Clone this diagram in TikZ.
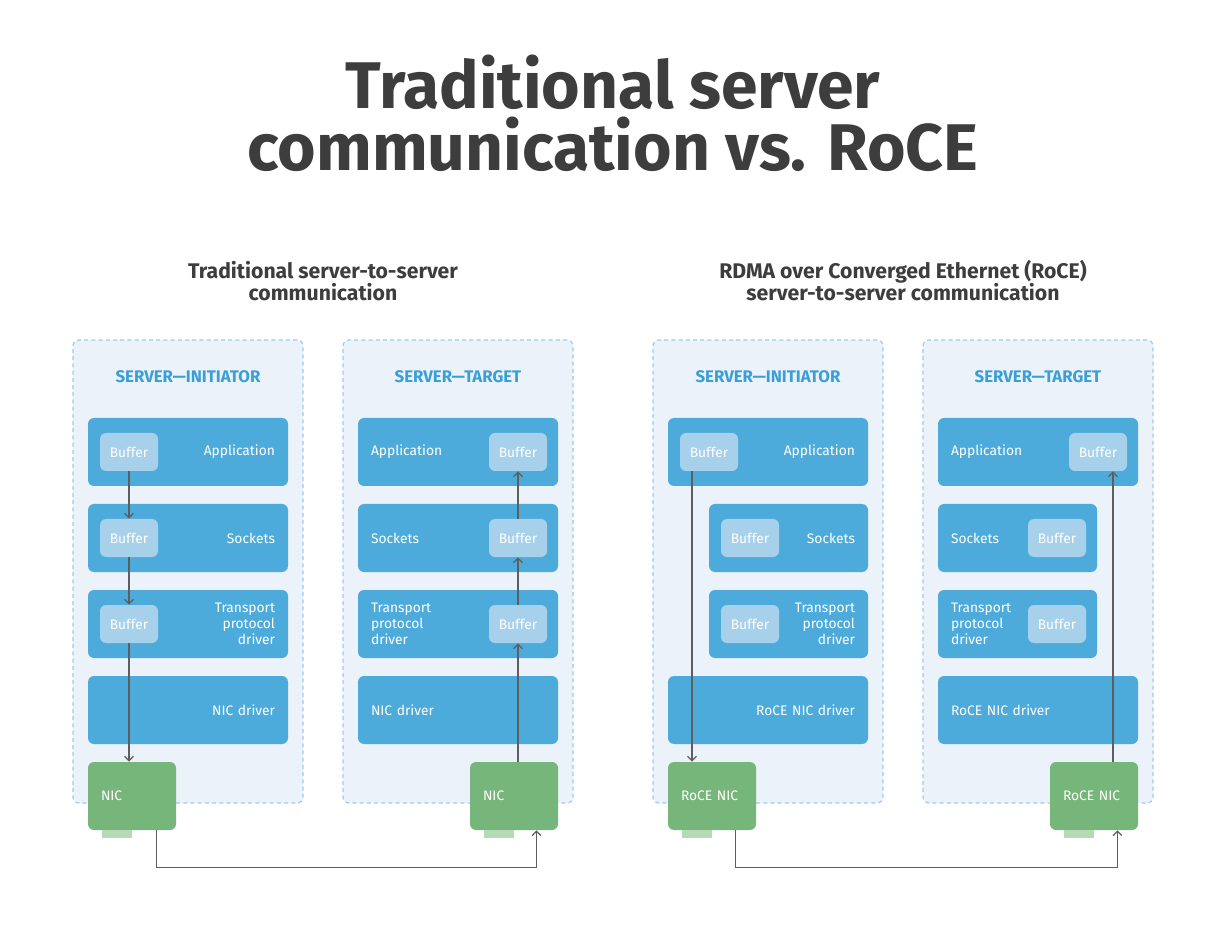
\documentclass[tikz,border=0pt]{standalone}
\usepackage{fontspec}
\setmainfont{Fira Sans}
\usetikzlibrary{arrows.meta}
\definecolor{titlegray}{HTML}{3D3D3D}
\definecolor{headblue}{HTML}{3A9FD8}
\definecolor{boxfill}{HTML}{EBF2FA}
\definecolor{boxline}{HTML}{9CCDEE}
\definecolor{layerblue}{HTML}{4DABDB}
\definecolor{bufblue}{HTML}{A7D0EB}
\definecolor{nicgreen}{HTML}{77B67B}
\definecolor{tabgreen}{HTML}{B6DAB5}
\definecolor{wiregray}{HTML}{5E5E5E}
\tikzset{
	server/.style={draw=boxline,line width=0.6pt,dash pattern=on 2pt off 1.6pt,fill=boxfill,rounded corners=3pt,minimum width=115pt,minimum height=231.5pt},
	head/.style={text=headblue,font=\fontsize{8.4}{10}\selectfont\bfseries},
	layer/.style={fill=layerblue,rounded corners=3pt,minimum height=34pt,text width=87pt,inner xsep=6.5pt,text=white,font=\fontsize{6.9}{8}\selectfont},
	layerR/.style={layer,align=right},
	layerL/.style={layer,align=left},
	buf/.style={fill=bufblue,rounded corners=3pt,minimum width=29pt,minimum height=19pt,inner sep=0pt,text=white,font=\fontsize{6.9}{8}\selectfont},
	nic/.style={fill=nicgreen,rounded corners=3pt,minimum height=34pt,text width=31pt,inner xsep=6.5pt,align=left,text=white,font=\fontsize{6.9}{8}\selectfont},
	wire/.style={draw=wiregray,line width=0.6pt,-{Straight Barb[length=2.2pt,width=4.4pt]}},
}
\begin{document}
\begin{tikzpicture}[x=0.5pt,y=-0.5pt]
	\useasboundingbox[fill=white] (0,0) rectangle (1217,941);
	% titles
	\node[font=\fontsize{33}{31}\selectfont\bfseries,text=titlegray,align=center] (title) at (613,113) {Traditional server\\communication vs. RoCE};
	\node[font=\fontsize{10.6}{11}\selectfont\bfseries,text=titlegray,align=center] (subL) at (323,281) {Traditional server-to-server\\communication};
	\node[font=\fontsize{10.6}{11}\selectfont\bfseries,text=titlegray,align=center] (subR) at (903,281) {RDMA over Converged Ethernet (RoCE)\\server-to-server communication};
	% servers
	\foreach \n/\x/\t in {LI/188/INITIATOR,LT/458/TARGET,RI/768/INITIATOR,RT/1038/TARGET}{
		\node[server] (srv\n) at (\x,571.5) {};
		\node[head] (head\n) at (\x,377) {SERVER—\t};
	}
	% traditional, initiator
	\node[layerR] (appLI) at (188,452) {Application};
	\node[layerR] (sockLI) at (188,538) {Sockets};
	\node[layerR] (tranLI) at (188,624) {Transport\\protocol\\driver};
	\node[layerR] (drvLI) at (188,710) {NIC driver};
	\node[buf] (bufLIa) at (129,452) {Buffer};
	\node[buf] (bufLIb) at (129,538) {Buffer};
	\node[buf] (bufLIc) at (129,624) {Buffer};
	% traditional, target
	\node[layerL] (appLT) at (458,452) {Application};
	\node[layerL] (sockLT) at (458,538) {Sockets};
	\node[layerL] (tranLT) at (458,624) {Transport\\protocol\\driver};
	\node[layerL] (drvLT) at (458,710) {NIC driver};
	\node[buf] (bufLTa) at (518,452) {Buffer};
	\node[buf] (bufLTb) at (518,538) {Buffer};
	\node[buf] (bufLTc) at (518,624) {Buffer};
	% RoCE, initiator
	\node[layerR] (appRI) at (768,452) {Application};
	\node[layerR,text width=66.5pt] (sockRI) at (788.5,538) {Sockets};
	\node[layerR,text width=66.5pt] (tranRI) at (788.5,624) {Transport\\protocol\\driver};
	\node[layerR] (drvRI) at (768,710) {RoCE NIC driver};
	\node[buf] (bufRIa) at (709,452) {Buffer};
	\node[buf] (bufRIb) at (750,538) {Buffer};
	\node[buf] (bufRIc) at (750,624) {Buffer};
	% RoCE, target
	\node[layerL] (appRT) at (1038,452) {Application};
	\node[layerL,text width=66.5pt] (sockRT) at (1017.5,538) {Sockets};
	\node[layerL,text width=66.5pt] (tranRT) at (1017.5,624) {Transport\\protocol\\driver};
	\node[layerL] (drvRT) at (1038,710) {RoCE NIC driver};
	\node[buf] (bufRTa) at (1098,452) {Buffer};
	\node[buf] (bufRTb) at (1057,538) {Buffer};
	\node[buf] (bufRTc) at (1057,624) {Buffer};
	% NICs
	\node[nic] (nicLI) at (132,796) {NIC};
	\node[nic] (nicLT) at (514,796) {NIC};
	\node[nic] (nicRI) at (712,796) {RoCE NIC};
	\node[nic] (nicRT) at (1094,796) {RoCE NIC};
	\foreach \n in {LI,LT,RI,RT}{
		\fill[tabgreen] ([xshift=7pt]nic\n.south west) rectangle ++(30,8);
	}
	% data paths
	\draw[wire] (bufLIa) -- (bufLIb);
	\draw[wire] (bufLIb) -- (bufLIc);
	\draw[wire] (bufLIc.south) -- (bufLIc.south |- nicLI.north);
	\draw[wire] (nicLT.north -| bufLTc.south) -- (bufLTc.south);
	\draw[wire] (bufLTc) -- (bufLTb);
	\draw[wire] (bufLTb) -- (bufLTa);
	\draw[wire] ([xshift=-8.5pt]bufRIa.south) -- ([xshift=-8.5pt]bufRIa.south |- nicRI.north);
	\draw[wire] ([xshift=7.5pt]bufRTa.south |- nicRT.north) -- ([xshift=7.5pt]bufRTa.south);
	\draw[wire] ([xshift=-10pt]nicLI.south east) -- ++(0,37) -| ([xshift=-11pt]nicLT.south east);
	\draw[wire] ([xshift=-10.5pt]nicRI.south east) -- ++(0,37) -| ([xshift=-10.5pt]nicRT.south east);
\end{tikzpicture}
\end{document}
